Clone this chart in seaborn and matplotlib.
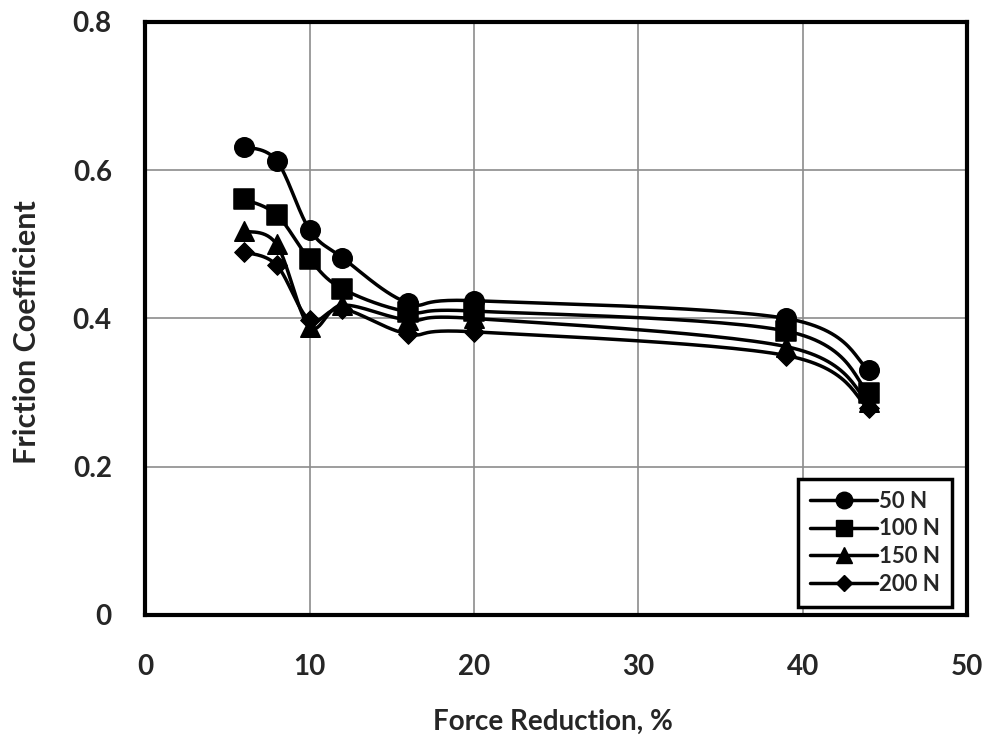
import numpy as np
import pandas as pd
import matplotlib
matplotlib.use("Agg")
import matplotlib.pyplot as plt
import seaborn as sns

# data
force_reduction = [6, 8, 10, 12, 16, 20, 39, 44]
mu_50 = [0.632, 0.613, 0.520, 0.482, 0.421, 0.424, 0.400, 0.331]
mu_100 = [0.561, 0.540, 0.480, 0.440, 0.409, 0.410, 0.383, 0.300]
mu_150 = [0.518, 0.500, 0.389, 0.418, 0.398, 0.400, 0.362, 0.287]
mu_200 = [0.490, 0.472, 0.398, 0.413, 0.379, 0.382, 0.350, 0.279]
loads = ["50 N", "100 N", "150 N", "200 N"]
markers = ["o", "s", "^", "D"]
msizes = [14, 14, 14, 10]

df = pd.DataFrame({
    "x": force_reduction * 4,
    "mu": mu_50 + mu_100 + mu_150 + mu_200,
    "load": [l for l in loads for _ in force_reduction],
})

sns.set_style("white")
plt.rcParams["font.family"] = ["Lato", "DejaVu Sans"]
plt.rcParams["font.weight"] = "bold"

fig = plt.figure(figsize=(9.87, 7.45), dpi=100)
ax = fig.add_axes([0.147, 0.1745, 0.833, 0.796])
ax.set_xlim(0, 50)
ax.set_ylim(0, 0.8)

# smoothed line like excel (catmull-rom in screen-ish space)
def smooth(xs, ys, n=30):
    sx, sy = 822 / 50, 593 / 0.8
    p = np.column_stack([np.array(xs) * sx, np.array(ys) * sy])
    out = [p[0]]
    for i in range(len(p) - 1):
        p0 = p[i - 1] if i > 0 else p[i]
        p1, p2 = p[i], p[i + 1]
        p3 = p[i + 2] if i + 2 < len(p) else p[i + 1]
        c1 = p1 + (p2 - p0) / 6
        c2 = p2 - (p3 - p1) / 6
        t = np.linspace(0, 1, n)[1:, None]
        seg = (1 - t) ** 3 * p1 + 3 * (1 - t) ** 2 * t * c1 + 3 * (1 - t) * t ** 2 * c2 + t ** 3 * p2
        out.extend(seg)
    out = np.array(out)
    return out[:, 0] / sx, out[:, 1] / sy

for load, m, ms in zip(loads, markers, msizes):
    d = df[df["load"] == load]
    cx, cy = smooth(d["x"].tolist(), d["mu"].tolist())
    ax.plot(cx, cy, color="black", lw=2.5, zorder=3)
    sns.scatterplot(data=d, x="x", y="mu", marker=m, s=ms ** 2, color="black",
                    edgecolor="black", ax=ax, zorder=4, legend=False)

handles = [plt.Line2D([], [], color="black", lw=2.5, marker=m, markersize=ms * 0.85,
                      label=l) for l, m, ms in zip(loads, markers, msizes)]
leg = ax.legend(handles=handles, loc="lower right", bbox_to_anchor=(0.982, 0.0135),
                borderaxespad=0, frameon=True, fancybox=False, framealpha=1, fontsize=16,
                handlelength=3.0, handletextpad=0.1, borderpad=0.55, labelspacing=0.3)
leg.get_frame().set_edgecolor("black")
leg.get_frame().set_linewidth(2.5)
for t in leg.get_texts():
    t.set_fontweight("bold")

ax.set_xticks([0, 10, 20, 30, 40, 50])
ax.set_yticks([0, 0.2, 0.4, 0.6, 0.8])
ax.set_yticklabels(["0", "0.2", "0.4", "0.6", "0.8"])
ax.grid(True, color="#8c8c8c", lw=1.2)
ax.tick_params(axis="both", length=0, labelsize=20)
ax.tick_params(axis="x", pad=28)
ax.tick_params(axis="y", pad=24)
for lab in ax.get_xticklabels() + ax.get_yticklabels():
    lab.set_fontweight("bold")
for s in ax.spines.values():
    s.set_color("black")
    s.set_linewidth(3)

ax.set_xlabel("Force Reduction, %", fontsize=20, fontweight="bold", va="center")
ax.set_ylabel("Friction Coefficient", fontsize=22, fontweight="bold", va="center")
ax.xaxis.set_label_coords(0.496, -0.180)
ax.yaxis.set_label_coords(-0.1436, 0.477)

fig.savefig("out.png", dpi=100)
